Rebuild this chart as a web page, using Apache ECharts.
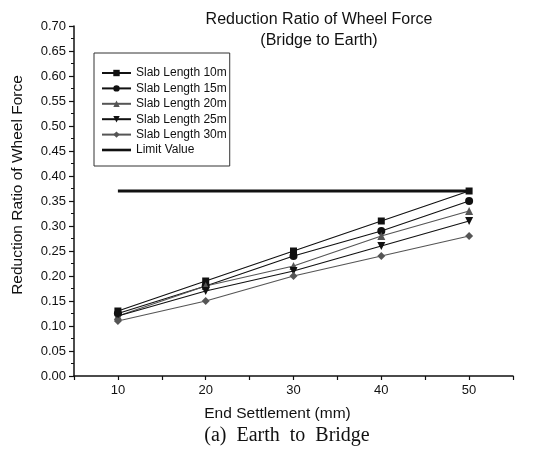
<!DOCTYPE html>
<html>
<head>
<meta charset="utf-8">
<script src="https://cdn.jsdelivr.net/npm/echarts@6/dist/echarts.min.js"></script>
<style>
  html, body { margin: 0; padding: 0; background: #fff; }
  #echarts { width: 534px; height: 455px; }
</style>
</head>
<body>
<div id="echarts"></div>
<script>
// settlement values (mm)
var settlement = [10, 20, 30, 40, 50];
var slab10 = [0.13, 0.19, 0.25, 0.31, 0.37];
var slab15 = [0.125, 0.18, 0.24, 0.29, 0.35];
var slab20 = [0.12, 0.18, 0.22, 0.28, 0.33];
var slab25 = [0.12, 0.17, 0.21, 0.26, 0.31];
var slab30 = [0.11, 0.15, 0.20, 0.24, 0.28];
var limitX = [10, 50];
var limitY = [0.37, 0.37];

var names = ['Slab Length 10m', 'Slab Length 15m', 'Slab Length 20m', 'Slab Length 25m', 'Slab Length 30m', 'Limit Value'];

function pairs(xs, ys) {
    var out = [];
    for (var i = 0; i < xs.length; i++) {
        out.push([xs[i], ys[i]]);
    }
    return out;
}

function slabSeries(name, values, symbol, color, rotate) {
    return {
        name: name,
        type: 'line',
        data: pairs(settlement, values),
        symbol: symbol,
        symbolSize: symbol == 'rect' ? 7 : 8,
        symbolRotate: rotate || 0,
        itemStyle: { color: color },
        lineStyle: { color: color, width: 1.2 },
        emphasis: { disabled: true }
    };
}

var font = 'Liberation Sans, Arial, sans-serif';

var myChart = echarts.init(document.getElementById('echarts'));

var option = {
    animation: false,
    backgroundColor: '#fff',
    title: [{
        text: 'Reduction Ratio of Wheel Force\n(Bridge to Earth)',
        left: 314,
        top: 4,
        textAlign: 'center',
        textStyle: { fontFamily: font, fontSize: 16, fontWeight: 'normal', color: '#111', lineHeight: 21, align: 'center' }
    }, {
        text: '(a)  Earth  to  Bridge',
        left: 282,
        top: 421,
        textAlign: 'center',
        textStyle: { fontFamily: 'Liberation Serif, Times New Roman, serif', fontSize: 20, fontWeight: 'normal', color: '#111' }
    }],
    legend: {
        data: [names[0], names[1], names[2], names[3], names[4],
            { name: names[5], icon: 'path://M0,0 L29,0 L29,2.6 L0,2.6 Z' }],
        orient: 'vertical',
        left: 94,
        top: 53,
        padding: [14, 3, 10, 7],
        itemGap: 3.4,
        itemWidth: 29,
        itemHeight: 8,
        borderColor: '#333',
        borderWidth: 1,
        textStyle: { fontFamily: font, fontSize: 12, color: '#111', lineHeight: 12 }
    },
    grid: { left: 74, right: 21, top: 26, bottom: 79, containLabel: false },
    xAxis: {
        type: 'value',
        min: 5,
        max: 55,
        interval: 5,
        name: 'End Settlement (mm)',
        nameLocation: 'middle',
        nameGap: 30,
        nameTextStyle: { fontFamily: font, fontSize: 15.5, color: '#111', padding: [0, 32, 0, 0] },
        axisLine: { lineStyle: { color: '#111', width: 1.5 } },
        axisTick: { length: 4, lineStyle: { color: '#111', width: 1.2 } },
        axisLabel: {
            fontFamily: font, fontSize: 13, color: '#111', margin: 8,
            formatter: function (v) { return (v % 10 === 0 && v >= 10 && v <= 50) ? String(v) : ''; }
        },
        splitLine: { show: false }
    },
    yAxis: {
        type: 'value',
        min: 0,
        max: 0.7,
        interval: 0.05,
        name: 'Reduction Ratio of Wheel Force',
        nameLocation: 'middle',
        nameGap: 48,
        nameTextStyle: { fontFamily: font, fontSize: 15.5, color: '#111', padding: [0, 0, 0, 32] },
        axisLine: { show: true, lineStyle: { color: '#111', width: 1.5 } },
        axisTick: { show: true, length: 5, lineStyle: { color: '#111', width: 1.2 } },
        minorTick: { show: true, splitNumber: 2, length: 3, lineStyle: { color: '#111', width: 1 } },
        axisLabel: {
            fontFamily: font, fontSize: 13, color: '#111', margin: 8,
            formatter: function (v) { return v.toFixed(2); }
        },
        splitLine: { show: false }
    },
    series: [
        slabSeries(names[0], slab10, 'rect', '#111'),
        slabSeries(names[1], slab15, 'circle', '#111'),
        slabSeries(names[2], slab20, 'triangle', '#555'),
        slabSeries(names[3], slab25, 'triangle', '#111', 180),
        slabSeries(names[4], slab30, 'diamond', '#555'),
        {
            name: names[5],
            type: 'line',
            data: pairs(limitX, limitY),
            symbol: 'none',
            itemStyle: { color: '#111' },
            lineStyle: { color: '#111', width: 3 },
            z: 1,
            emphasis: { disabled: true }
        }
    ]
};

myChart.setOption(option);
</script>
</body>
</html>
